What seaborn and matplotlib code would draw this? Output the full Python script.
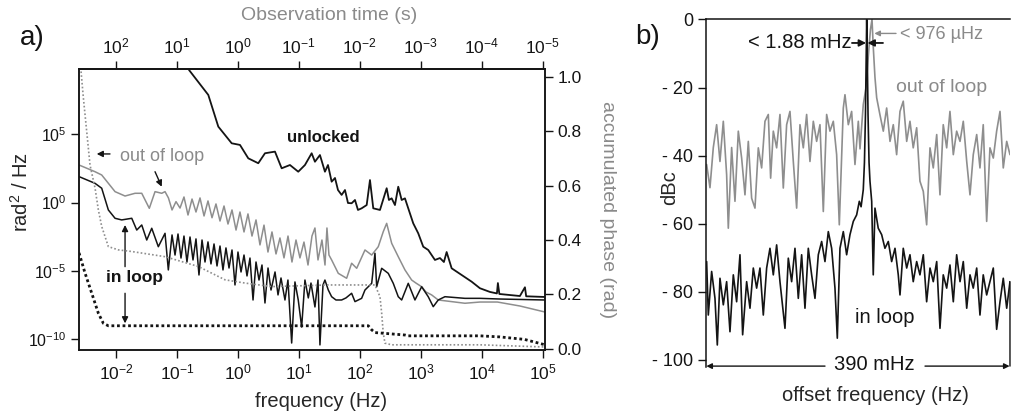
import numpy as np
import pandas as pd
import matplotlib
matplotlib.use("Agg")
import matplotlib.pyplot as plt
import seaborn as sns
from matplotlib.ticker import LogFormatterMathtext, NullLocator, FormatStrFormatter

# ---------------- panel a: values (log10 units) ----------------
unlocked_logf = [-0.803, -0.486, -0.322, -0.102, 0.034, 0.170, 0.334, 0.444, 0.608, 0.718,
                 0.854, 0.990, 1.100, 1.210, 1.264, 1.346, 1.428, 1.478, 1.538, 1.593,
                 1.642, 1.702, 1.757, 1.806, 1.866, 1.921, 1.970, 2.030, 2.113, 2.167,
                 2.221, 2.331, 2.441, 2.478, 2.523, 2.577, 2.631, 2.687, 2.741, 2.795,
                 2.877, 2.959, 3.041, 3.123, 3.233, 3.315, 3.380, 3.425, 3.507, 3.671,
                 3.835, 3.971, 4.135, 4.250, 4.266, 4.290, 4.627, 4.710, 4.730, 5.037]
unlocked_logpsd = [9.71, 7.88, 5.56, 4.34, 4.22, 3.24, 2.88, 3.61, 3.73, 2.51,
                   2.75, 2.26, 2.75, 3.61, 2.99, 3.48, 2.26, 2.75, 1.53, 1.80,
                   0.92, 0.56, 0.92, -0.03, -0.05, 0.19, -0.54, -0.42, -0.18, 1.65,
                   -0.42, -0.54, 1.05, 0.19, 0.31, -0.18, 1.16, 0.19, 0.31, -0.42,
                   -1.52, -2.25, -3.23, -3.47, -4.20, -4.06, -4.35, -3.62, -4.81, -5.30,
                   -5.79, -6.27, -6.54, -6.65, -5.89, -6.69, -6.84, -6.20, -6.86, -6.91]

ool_logf = [-2.607, -2.345, -2.235, -2.016, -1.852, -1.688, -1.578, -1.454, -1.360, -1.250,
            -1.196, -1.140, -1.081, -1.016, -0.950, -0.885, -0.819, -0.753, -0.688, -0.622,
            -0.556, -0.491, -0.425, -0.360, -0.294, -0.228, -0.163, -0.097, -0.031, 0.034,
            0.100, 0.165, 0.231, 0.297, 0.362, 0.428, 0.493, 0.559, 0.625, 0.690,
            0.756, 0.822, 0.887, 0.953, 1.018, 1.084, 1.150, 1.215, 1.264, 1.314,
            1.379, 1.429, 1.461, 1.494, 1.538, 1.647, 1.784, 1.866, 1.949, 2.085,
            2.195, 2.303, 2.385, 2.441, 2.523, 2.631, 2.741, 2.851, 2.921, 3.015,
            3.085, 3.179, 3.287, 3.507, 3.725, 3.972, 4.258, 4.627, 5.037]
ool_logpsd = [2.75, 2.26, 2.02, 0.80, 0.48, 0.68, 0.68, -0.42, 0.80, 0.68,
              0.80, 0.34, -0.54, 0.07, -0.40, 0.41, -0.91, 0.26, -0.69, 0.34,
              -0.98, 0.12, -1.11, -0.10, -1.35, -0.25, -1.57, -0.54, -2.01, -0.69,
              -2.15, -0.83, -2.45, -1.27, -3.10, -1.65, -3.62, -2.15, -3.76, -2.59,
              -4.05, -2.45, -4.35, -2.74, -4.05, -2.89, -4.57, -2.45, -1.86, -4.20,
              -2.74, -4.57, -1.86, -3.84, -4.20, -5.18, -5.54, -4.44, -4.81, -3.47,
              -3.84, -3.23, -2.13, -1.52, -2.98, -3.96, -4.93, -5.67, -5.89, -6.16,
              -6.54, -6.76, -7.13, -7.25, -7.37, -7.28, -7.28, -7.57, -8.01]

il_logf = [-2.607, -2.345, -2.235, -2.126, -2.016, -1.907, -1.742, -1.660, -1.578, -1.496,
           -1.414, -1.306, -1.196, -1.142, -1.081, -1.032, -0.983, -0.934, -0.885, -0.836,
           -0.786, -0.737, -0.688, -0.639, -0.589, -0.540, -0.491, -0.442, -0.392, -0.343,
           -0.294, -0.245, -0.196, -0.146, -0.097, -0.048, 0.001, 0.051, 0.100, 0.149,
           0.198, 0.248, 0.297, 0.346, 0.395, 0.444, 0.494, 0.543, 0.609, 0.658,
           0.707, 0.772, 0.821, 0.882, 0.936, 0.990, 1.046, 1.100, 1.155, 1.199,
           1.264, 1.314, 1.346, 1.396, 1.428, 1.483, 1.538, 1.609, 1.702, 1.773,
           1.866, 1.921, 2.030, 2.085, 2.195, 2.249, 2.277, 2.359, 2.467, 2.549,
           2.631, 2.687, 2.795, 2.905, 3.015, 3.123, 3.205, 3.287, 3.397, 3.725,
           3.972, 4.300, 5.037]
il_logpsd = [1.90, 1.41, 1.05, -0.54, -1.15, -1.27, -1.15, -2.01, -1.64, -2.74,
             -1.88, -3.23, -2.25, -4.93, -2.37, -3.84, -2.30, -4.06, -2.45, -4.35,
             -2.52, -4.20, -2.66, -5.30, -2.74, -4.35, -2.88, -4.49, -3.03, -4.64,
             -3.18, -4.93, -3.32, -4.79, -3.47, -6.03, -3.62, -5.08, -3.84, -5.37,
             -4.06, -7.13, -4.35, -5.67, -4.57, -7.35, -4.79, -6.40, -5.08, -6.76,
             -5.52, -7.13, -5.67, -10.28, -5.81, -7.13, -9.11, -5.67, -6.98, -5.89,
             -7.64, -5.67, -10.42, -6.03, -5.67, -6.40, -6.89, -7.13, -7.13, -6.98,
             -6.64, -7.25, -7.01, -6.40, -5.91, -3.71, -6.16, -4.81, -5.18, -5.91,
             -6.89, -7.13, -5.91, -7.13, -6.16, -6.89, -7.62, -7.13, -6.89, -7.01,
             -7.01, -7.06, -7.13]

# accumulated phase (rad), right axis
ool_phase_logf = [-2.574, -2.536, -2.481, -2.427, -2.344, -2.290, -2.235, -2.126, -1.962, -1.742,
                  -1.196, -0.650, -0.212, 0.116, 0.554, 1.483, 2.249, 2.331, 2.359, 2.385,
                  2.413, 2.523, 3.971, 5.037]
ool_phase = [1.02, 0.923, 0.799, 0.676, 0.591, 0.511, 0.450, 0.376, 0.364, 0.358,
             0.339, 0.303, 0.254, 0.242, 0.229, 0.235, 0.235, 0.192, 0.131, 0.058,
             0.021, 0.015, 0.015, 0.007]
il_phase_logf = [-2.607, -2.509, -2.399, -2.290, -2.208, -2.126, 2.139, 2.195, 2.249, 2.741,
                 2.795, 3.971, 4.300, 4.700, 5.040]
il_phase = [0.353, 0.279, 0.205, 0.131, 0.094, 0.085, 0.085, 0.070, 0.060, 0.051,
            0.048, 0.048, 0.044, 0.035, 0.015]

freq_ticks = [1e-2, 1e-1, 1e0, 1e1, 1e2, 1e3, 1e4, 1e5]
obs_ticks = [1e2, 1e1, 1e0, 1e-1, 1e-2, 1e-3, 1e-4, 1e-5]
psd_ticks = [1e-10, 1e-5, 1e0, 1e5]
phase_ticks = [0.0, 0.2, 0.4, 0.6, 0.8, 1.0]

# ---------------- panel b: offset frequency (mHz across the 390 mHz span), dBc ----------------
oolb_x = [0.86, 5.13, 9.41, 13.68, 17.96, 22.24, 26.51, 28.65, 32.93, 37.20,
          41.48, 45.76, 50.03, 54.31, 58.59, 62.86, 67.14, 71.41, 75.69, 79.97,
          82.96, 86.38, 90.66, 94.93, 99.21, 103.49, 107.76, 112.04, 116.32, 120.59,
          124.87, 129.14, 133.42, 137.70, 141.97, 146.25, 150.53, 154.80, 159.08, 163.35,
          167.63, 171.05, 176.18, 178.32, 182.60, 186.87, 191.15, 195.43,
          197.6, 201.8, 205.3, 208.5, 211.0, 213.0, 214.6, 216.8, 219.0, 223.2,
          227.5, 231.8, 236.1, 240.3, 244.6, 248.9, 253.1, 257.5, 261.7, 265.9,
          270.3, 274.5, 278.8, 283.1, 287.4, 291.6, 296.0, 300.2, 304.4, 308.8,
          313.0, 317.3, 321.6, 325.9, 330.1, 334.5, 338.7, 342.9, 347.3, 351.5,
          355.7, 360.1, 364.3, 368.6, 372.9, 377.2, 381.4, 385.8, 390.0]
oolb_db = [-42.6, -49.4, -37.6, -30.9, -41.7, -29.9, -45.6, -61.3, -37.6, -53.4,
           -32.8, -40.7, -51.5, -35.8, -52.5, -55.4, -37.7, -43.6, -29.9, -27.9,
           -46.6, -32.8, -37.7, -27.9, -49.5, -30.9, -27.0, -41.7, -55.4, -30.9,
           -37.7, -27.9, -41.7, -29.9, -35.8, -30.9, -56.4, -27.9, -32.8, -29.9,
           -39.7, -60.3, -26.0, -22.1, -30.9, -27.0, -42.6, -29.9,
           -38.0, -25.0, -20.0, -10.0, -3.0, 0.0, -8.0, -17.0, -23.0, -28.0,
           -32.8, -26.0, -35.8, -30.9, -39.7, -27.0, -24.0, -35.8, -29.9, -37.7,
           -31.8, -47.5, -50.5, -60.3, -37.7, -43.6, -33.8, -51.5, -30.9, -37.7,
           -27.0, -39.7, -32.8, -35.8, -29.9, -41.7, -51.5, -39.7, -33.8, -43.6,
           -30.9, -59.3, -37.7, -40.7, -32.8, -27.0, -43.6, -35.8, -39.7]

ilb_x = [0.86, 2.99, 7.27, 11.55, 14.54, 17.96, 22.24, 26.51, 30.79, 35.07,
         39.34, 43.62, 47.04, 52.17, 56.45, 60.72, 65.00, 69.28, 73.55, 77.83,
         82.10, 86.38, 90.66, 94.93, 101.35, 105.62, 109.90, 114.18, 118.45, 122.73,
         127.01, 131.28, 135.56, 139.84, 144.11, 148.39, 152.66, 156.94, 161.22, 165.49,
         168.49, 171.91, 176.18, 180.46, 184.74, 189.01, 193.29, 196.71,
         199.0, 201.8, 203.3, 204.6, 205.5, 206.2, 207.0, 207.9, 209.2, 210.4,
         212.6, 214.6, 216.8, 221.0, 225.4, 229.6, 233.9, 238.2, 242.5, 246.7,
         248.9, 253.1, 257.5, 261.7, 265.9, 270.3, 274.5, 278.8, 283.1, 287.4,
         291.6, 296.0, 300.2, 304.4, 308.8, 313.0, 317.3, 321.6, 325.9, 330.1,
         334.5, 338.7, 342.9, 347.3, 351.5, 355.7, 360.1, 364.3, 368.6, 372.9,
         377.2, 381.4, 385.8, 390.0]
ilb_db = [-71.1, -86.8, -74.0, -81.9, -95.6, -76.0, -83.8, -77.0, -91.7, -75.0,
          -82.9, -69.1, -92.6, -77.0, -84.8, -73.0, -78.9, -73.0, -86.8, -73.0,
          -67.2, -75.0, -66.2, -77.0, -90.7, -70.1, -77.0, -67.2, -81.9, -69.1,
          -84.8, -67.2, -75.0, -81.9, -69.1, -65.2, -71.1, -62.3, -67.2, -78.9,
          -93.6, -67.2, -62.3, -69.1, -63.2, -59.3, -57.4, -53.4,
          -55.0, -50.0, -42.0, -28.0, -12.0, 0.0, -12.0, -28.0, -42.0, -47.5,
          -53.4, -75.0, -55.4, -61.3, -63.2, -67.2, -65.2, -71.1, -67.2, -75.0,
          -80.9, -67.2, -73.0, -69.1, -77.0, -71.1, -75.0, -69.1, -82.9, -73.0,
          -77.0, -71.1, -90.7, -75.0, -78.9, -72.1, -82.9, -69.1, -77.0, -71.1,
          -84.8, -75.0, -78.9, -73.0, -86.8, -75.0, -80.9, -77.0, -73.0, -91.0,
          -82.9, -76.0, -84.8, -77.0]

db_ticks = [-100, -80, -60, -40, -20, 0]
db_ticklabels = ['- 100', '- 80', '- 60', '- 40', '- 20', '0']

# ---------------- style ----------------
BLACK = '#141414'
GREY = '#8e8e8e'
GREY_TXT = '#8a8a8a'

sns.set_theme(style='ticks')
plt.rcParams['font.family'] = ['Liberation Sans', 'DejaVu Sans']
plt.rcParams['mathtext.fontset'] = 'custom'
plt.rcParams['mathtext.rm'] = 'Liberation Sans'
plt.rcParams['mathtext.it'] = 'Liberation Sans:italic'
plt.rcParams['mathtext.bf'] = 'Liberation Sans:bold'
plt.rcParams['axes.linewidth'] = 1.1
plt.rcParams['axes.edgecolor'] = BLACK
plt.rcParams['text.color'] = BLACK
plt.rcParams['xtick.color'] = BLACK
plt.rcParams['ytick.color'] = BLACK


def draw(axis, xs, ys, **kw):
    df = pd.DataFrame({'x': np.asarray(xs, float), 'y': np.asarray(ys, float)})
    sns.lineplot(data=df, x='x', y='y', ax=axis, sort=False, estimator=None, **kw)


fig = plt.figure(figsize=(10.12, 4.16), dpi=100)

# ================= panel a =================
ax = fig.add_axes([0.0781, 0.1587, 0.4605, 0.6755])
ax.set_xscale('log')
ax.set_yscale('log')
draw(ax, 10 ** np.array(ool_logf), 10 ** np.array(ool_logpsd), color=GREY, lw=1.1)
draw(ax, 10 ** np.array(il_logf), 10 ** np.array(il_logpsd), color=BLACK, lw=1.1)
draw(ax, 10 ** np.array(unlocked_logf), 10 ** np.array(unlocked_logpsd), color=BLACK, lw=1.3)

ax2 = ax.twinx()
draw(ax2, 10 ** np.array(ool_phase_logf), ool_phase, color=GREY, lw=1.2, linestyle=(0, (1, 1.3)))
draw(ax2, 10 ** np.array(il_phase_logf), il_phase, color=BLACK, lw=2.0, linestyle=(0, (1, 1)))

xlim = (10 ** -2.607, 10 ** 5.04)
ax.set_xlim(*xlim)
ax.set_ylim(10 ** -10.79, 10 ** 9.78)
ax.set_xticks(freq_ticks)
ax.set_yticks(psd_ticks)
ax.xaxis.set_major_formatter(LogFormatterMathtext())
ax.yaxis.set_major_formatter(LogFormatterMathtext())
ax.xaxis.set_minor_locator(NullLocator())
ax.yaxis.set_minor_locator(NullLocator())
ax.tick_params(axis='both', which='major', direction='out', length=6, width=1.0,
               top=False, right=False, pad=3)
ax.tick_params(axis='y', labelsize=11.5)
ax.tick_params(axis='x', labelsize=12.5)

ax2.set_xlim(*xlim)
ax2.set_ylim(-0.004, 1.029)
ax2.set_yticks(phase_ticks)
ax2.yaxis.set_major_formatter(FormatStrFormatter('%.1f'))
ax2.tick_params(axis='y', direction='out', length=6, width=1.0, labelsize=12.5, pad=3)


def inv(x):
    x = np.asarray(x, float)
    with np.errstate(divide='ignore'):
        return 1.0 / x


secax = ax.secondary_xaxis('top', functions=(inv, inv))
secax.set_xticks(obs_ticks)
secax.xaxis.set_major_formatter(LogFormatterMathtext())
secax.xaxis.set_minor_locator(NullLocator())
secax.tick_params(direction='out', length=6, width=1.0, labelsize=12.5, pad=3)

ax.set_xlabel('frequency (Hz)', fontsize=14.5)
ax.xaxis.label.set_va('center')
ax.xaxis.set_label_coords(0.519, -0.184)
ax.set_ylabel(r'rad$^{2}$ / Hz', fontsize=14.5)
ax.yaxis.label.set_rotation_mode('default')
ax.yaxis.label.set_va('center')
ax.yaxis.set_label_coords(-0.124, 0.562)
ax2.set_ylabel('accumulated phase (rad)', fontsize=14, color=GREY_TXT, rotation=270)
ax2.yaxis.label.set_rotation_mode('default')
ax2.yaxis.label.set_va('center')
ax2.yaxis.label.set_ha('center')
ax2.yaxis.set_label_coords(1.135, 0.50)
ax.text(0.536, 1.192, 'Observation time (s)', transform=ax.transAxes, ha='center',
        va='center', fontsize=14, color=GREY_TXT)

arrow_k = dict(arrowstyle='-|>', color=BLACK, lw=1.0, mutation_scale=9, shrinkA=0, shrinkB=0)
ax.text(10 ** 1.396, 10 ** 4.73, 'unlocked', ha='center', va='center', fontsize=12,
        fontweight='bold')
ax.text(10 ** -1.25, 10 ** 3.34, 'out of loop', ha='center', va='center', fontsize=13,
        color=GREY_TXT)
ax.annotate('', xy=(10 ** -2.317, 10 ** 3.56), xytext=(10 ** -2.099, 10 ** 3.56), arrowprops=arrow_k)
ax.annotate('', xy=(10 ** -1.25, 10 ** 1.16), xytext=(10 ** -1.36, 10 ** 2.26), arrowprops=arrow_k)
ax.text(10 ** -1.705, 10 ** -5.52, 'in loop', ha='center', va='center', fontsize=12.5,
        fontweight='bold')
ax.annotate('', xy=(10 ** -1.852, 10 ** -1.64), xytext=(10 ** -1.852, 10 ** -4.69), arrowprops=arrow_k)
ax.annotate('', xy=(10 ** -1.852, 10 ** -8.84), xytext=(10 ** -1.852, 10 ** -6.64), arrowprops=arrow_k)

# ================= panel b =================
axb = fig.add_axes([0.6976, 0.1183, 0.3004, 0.8349])
draw(axb, oolb_x, oolb_db, color=GREY, lw=1.2)
draw(axb, ilb_x, ilb_db, color=BLACK, lw=1.2)
axb.set_xlim(0, 390)
axb.set_ylim(-102, 0)
axb.set_xticks([])
axb.set_yticks(db_ticks, labels=db_ticklabels)
axb.spines['right'].set_visible(False)
axb.spines['bottom'].set_visible(False)
axb.tick_params(axis='y', direction='out', length=6, width=1.0, labelsize=13, pad=3)
axb.set_ylabel('dBc', fontsize=14.5)
axb.yaxis.label.set_rotation_mode('default')
axb.yaxis.label.set_va('center')
axb.yaxis.set_label_coords(-0.118, 0.515)
axb.set_xlabel('offset frequency (Hz)', fontsize=14.5)
axb.xaxis.label.set_va('center')
axb.xaxis.set_label_coords(0.559, -0.084)

arrow_b = dict(arrowstyle='-|>', color=BLACK, lw=1.3, mutation_scale=10, shrinkA=0, shrinkB=0)
axb.text(187.3, -6.9, '< 1.88 mHz', ha='right', va='center', fontsize=14.5)
axb.annotate('', xy=(205.4, -6.9), xytext=(187.3, -6.9), arrowprops=arrow_b)
axb.annotate('', xy=(207.2, -6.9), xytext=(227.1, -6.9), arrowprops=arrow_b)
arrow_g = dict(arrowstyle='-|>', color=GREY_TXT, lw=1.0, mutation_scale=8, shrinkA=0, shrinkB=0)
axb.text(248.9, -4.4, '< 976 µHz', ha='left', va='center', fontsize=13, color=GREY_TXT)
axb.annotate('', xy=(216.0, -4.1), xytext=(243.8, -4.1), arrowprops=arrow_g)
axb.text(302.8, -19.9, 'out of loop', ha='center', va='center', fontsize=14, color=GREY_TXT)
axb.text(229.6, -87.4, 'in loop', ha='center', va='center', fontsize=14.5)
axb.text(215.5, -101.2, '390 mHz', ha='center', va='center', fontsize=14.5)
arrow_s = dict(arrowstyle='-|>', color=BLACK, lw=1.0, mutation_scale=8, shrinkA=0, shrinkB=0)
axb.annotate('', xy=(0.5, -101.8), xytext=(152.7, -101.8), arrowprops=arrow_s, annotation_clip=False)
axb.annotate('', xy=(389.5, -101.8), xytext=(281.0, -101.8), arrowprops=arrow_s, annotation_clip=False)
axb.annotate('', xy=(390, -101.8), xytext=(390, -77.0),
             arrowprops=dict(arrowstyle='-', color=BLACK, lw=1.0, shrinkA=0, shrinkB=0),
             annotation_clip=False)

fig.text(32 / 1012, 1 - 38 / 416, 'a)', fontsize=20, ha='center', va='center')
fig.text(648 / 1012, 1 - 37 / 416, 'b)', fontsize=20, ha='center', va='center')

fig.savefig('out.png', dpi=100, facecolor='white')
